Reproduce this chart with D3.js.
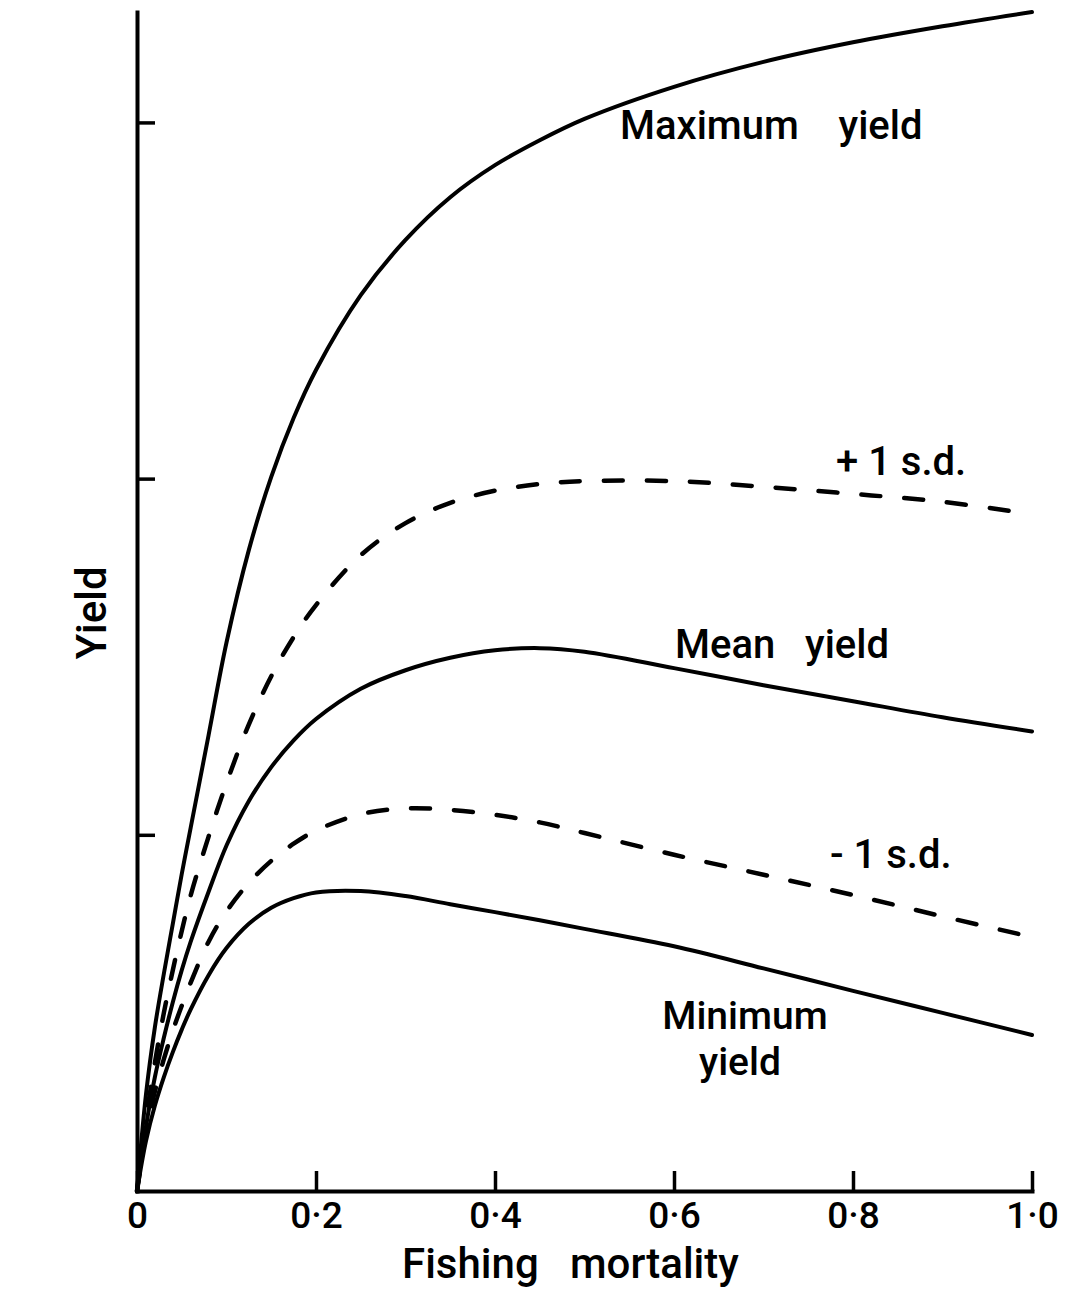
<!DOCTYPE html>
<html>
<head>
<meta charset="utf-8">
<script src="https://cdn.jsdelivr.net/npm/d3@7"></script>
<style>
  body { margin: 0; background: #fff; }
  svg { display: block; }
</style>
</head>
<body>
<div id="chart"></div>
<script>
// fishing mortality (x) and yield curves (y, in units of one y tick)
const mortality = [0, 0.01, 0.02, 0.03, 0.04, 0.05, 0.06, 0.08, 0.10, 0.125, 0.15, 0.175, 0.2, 0.25, 0.3, 0.35, 0.4, 0.45, 0.5, 0.6, 0.7, 0.8, 0.9, 1.0];
const maxYield  = [0, 0.27, 0.46, 0.61, 0.75, 0.89, 1.02, 1.28, 1.54, 1.80, 2.005, 2.17, 2.305, 2.515, 2.67, 2.79, 2.88, 2.95, 3.01, 3.10, 3.17, 3.225, 3.27, 3.31];
const plusSd    = [0, 0.20, 0.36, 0.50, 0.62, 0.73, 0.83, 0.995, 1.145, 1.31, 1.445, 1.555, 1.645, 1.785, 1.875, 1.932, 1.966, 1.985, 1.993, 1.993, 1.977, 1.957, 1.935, 1.90];
const meanYield = [0, 0.18, 0.32, 0.43, 0.53, 0.62, 0.70, 0.84, 0.97, 1.095, 1.19, 1.265, 1.325, 1.41, 1.462, 1.497, 1.518, 1.524, 1.514, 1.468, 1.42, 1.375, 1.33, 1.29];
const minusSd   = [0, 0.16, 0.28, 0.37, 0.45, 0.52, 0.585, 0.70, 0.785, 0.865, 0.927, 0.975, 1.012, 1.058, 1.074, 1.07, 1.056, 1.035, 1.005, 0.944, 0.888, 0.831, 0.771, 0.713];
const minYield  = [0, 0.14, 0.24, 0.32, 0.39, 0.453, 0.51, 0.606, 0.682, 0.75, 0.795, 0.822, 0.838, 0.842, 0.828, 0.805, 0.783, 0.76, 0.736, 0.687, 0.625, 0.562, 0.50, 0.438];

const xTicks = [0, 0.2, 0.4, 0.6, 0.8, 1.0];
const xTickLabels = ['0', '0·2', '0·4', '0·6', '0·8', '1·0'];
const yTicks = [1, 2, 3];

const FONT = "Roboto, 'DejaVu Sans', sans-serif";
const width = 1066, height = 1292;
const margin = { top: 12, right: 34, bottom: 101, left: 137 };

const x = d3.scaleLinear().domain([0, 1]).range([margin.left, width - margin.right]);
const y = d3.scaleLinear().domain([0, 3.31]).range([height - margin.bottom, margin.top]);

const svg = d3.select('#chart').append('svg')
  .attr('width', width)
  .attr('height', height)
  .style('font-family', FONT)
  .style('font-weight', 500);

svg.append('rect').attr('width', width).attr('height', height).attr('fill', '#fff');

// curves
const series = [
  { values: maxYield, dashed: false },
  { values: plusSd, dashed: true },
  { values: meanYield, dashed: false },
  { values: minusSd, dashed: true },
  { values: minYield, dashed: false }
];

const line = d3.line()
  .x((d, i) => x(mortality[i]))
  .y(d => y(d))
  .curve(d3.curveCatmullRom.alpha(0.5));

svg.append('g')
  .selectAll('path')
  .data(series)
  .enter()
  .append('path')
  .attr('fill', 'none')
  .attr('stroke', '#000')
  .attr('stroke-width', d => d.dashed ? 4.5 : 4)
  .attr('stroke-linecap', 'round')
  .attr('stroke-linejoin', 'round')
  .attr('stroke-dasharray', d => d.dashed ? '19,24' : null)
  .attr('d', d => line(d.values));

// x axis, ticks pointing up
const xAxis = svg.append('g')
  .attr('transform', `translate(0,${y(0)})`)
  .call(d3.axisBottom(x)
    .tickValues(xTicks)
    .tickFormat((d, i) => xTickLabels[i])
    .tickSizeInner(-20)
    .tickSizeOuter(0)
    .tickPadding(0));
xAxis.attr('font-family', FONT);
xAxis.select('.domain').attr('stroke', '#000').attr('stroke-width', 4).attr('stroke-linecap', 'square');
xAxis.selectAll('.tick line').attr('stroke', '#000').attr('stroke-width', 3.5);
xAxis.selectAll('.tick text')
  .attr('y', 37)
  .attr('dy', 0)
  .attr('fill', '#000')
  .style('font-size', '37px')
  .style('font-weight', 500);

// y axis, ticks pointing right, no labels
const yAxis = svg.append('g')
  .attr('transform', `translate(${x(0)},0)`)
  .call(d3.axisRight(y)
    .tickValues(yTicks)
    .tickFormat('')
    .tickSizeInner(18)
    .tickSizeOuter(0));
yAxis.select('.domain').attr('stroke', '#000').attr('stroke-width', 4).attr('stroke-linecap', 'square');
yAxis.selectAll('.tick line').attr('stroke', '#000').attr('stroke-width', 3.5);

// axis titles
svg.append('text')
  .attr('x', 402)
  .attr('y', 1278)
  .style('font-size', '42px')
  .style('white-space', 'pre')
  .text('Fishing   mortality');

svg.append('text')
  .attr('transform', 'translate(106,613) rotate(-90)')
  .attr('text-anchor', 'middle')
  .style('font-size', '42px')
  .text('Yield');

// curve labels
const label = (tx, ty, str) => svg.append('text')
  .attr('x', tx)
  .attr('y', ty)
  .style('font-size', '40px')
  .style('white-space', 'pre')
  .text(str);

label(620, 139, 'Maximum    yield');
label(836, 475, '+ 1 s.d.');
label(675, 658, 'Mean   yield');
label(830, 868, '- 1 s.d.');

svg.append('text')
  .attr('x', 745)
  .attr('y', 1029)
  .attr('text-anchor', 'middle')
  .style('font-size', '39px')
  .text('Minimum');
svg.append('text')
  .attr('x', 740)
  .attr('y', 1075)
  .attr('text-anchor', 'middle')
  .style('font-size', '39px')
  .text('yield');
</script>
</body>
</html>
